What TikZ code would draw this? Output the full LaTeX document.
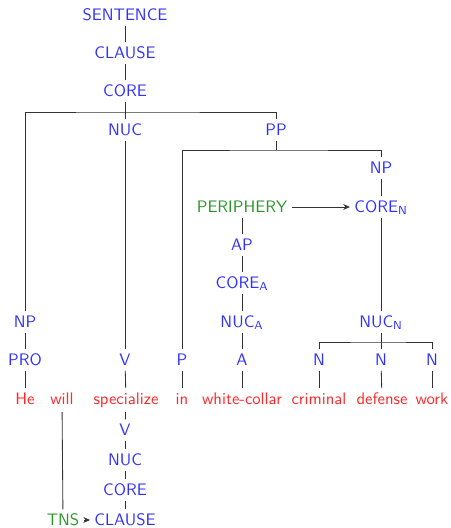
\documentclass[tikz,border=0pt]{standalone}
\usetikzlibrary{arrows.meta}
\definecolor{catblue}{RGB}{48,48,255}
\definecolor{wordred}{RGB}{255,40,40}
\definecolor{opgreen}{RGB}{40,150,40}
\tikzset{
  cat/.style={text=catblue, font=\sffamily, inner sep=2.5pt, text height=7pt, text depth=0.5pt},
  word/.style={text=wordred, font=\sffamily, inner sep=2.5pt, text height=7pt, text depth=2pt},
  oper/.style={text=opgreen, font=\sffamily, inner sep=2.5pt, text height=7pt, text depth=0.5pt},
  link/.style={draw=black!80, line width=0.5pt},
  oparrow/.style={link, -{Stealth[length=4pt,width=3.5pt]}}
}
\begin{document}
\begin{tikzpicture}[x=0.6pt, y=-0.6pt]
\useasboundingbox (0,0) rectangle (451,528);
% clause spine
\node[cat] (sent) at (125,15) {SENTENCE};
\node[cat] (clause) at (125,53) {CLAUSE};
\node[cat] (core) at (125,91) {CORE};
\node[cat] (nuc) at (125,130) {NUC};
\node[cat] (pp) at (276,130) {PP};
\node[cat] (np1) at (25,322) {NP};
\node[cat] (pro) at (25,360) {PRO};
\node[cat] (v) at (125,360) {V};
\node[cat] (p) at (182,360) {P};
% noun phrase
\node[cat] (np2) at (381,168) {NP};
\node[oper] (peri) at (242,207) {PERIPHERY};
\node[cat] (coren) at (381,207) {CORE\textsubscript{N}};
\node[cat] (ap) at (242,245) {AP};
\node[cat] (corea) at (242,283) {CORE\textsubscript{A}};
\node[cat] (nuca) at (242,322) {NUC\textsubscript{A}};
\node[cat] (a) at (242,360) {A};
\node[cat] (nucn) at (381,322) {NUC\textsubscript{N}};
\node[cat] (n1) at (319,360) {N};
\node[cat] (n2) at (381,360) {N};
\node[cat] (n3) at (432,360) {N};
% words
\node[word] (he) at (25,400) {He};
\node[word] (will) at (62,400) {will};
\node[word] (spec) at (126,400) {specialize};
\node[word] (in) at (182,400) {in};
\node[word] (white) at (242,400) {white-collar};
\node[word] (crim) at (319,400) {criminal};
\node[word] (def) at (382,400) {defense};
\node[word] (work) at (432,400) {work};
% operator projection
\node[cat] (v2) at (125,430) {V};
\node[cat] (nuc2) at (125,460) {NUC};
\node[cat] (core2) at (125,490) {CORE};
\node[cat] (clause2) at (125,520) {CLAUSE};
\node[oper] (tns) at (63,520) {TNS};
\coordinate (bar1) at (125,112);
\coordinate (bar2) at (276,150);
\coordinate (bar3) at (381,342);

\draw[link] (sent) -- (clause);
\draw[link] (clause) -- (core);
\draw[link] (np1.north) |- (bar1) -| (pp.north);
\draw[link] (core) -- (nuc);
\draw[link] (nuc) -- (v);
\draw[link] (np1) -- (pro);
\draw[link] (p.north) |- (bar2) -| (np2.north);
\draw[link] (pp.south) -- (bar2);
\draw[link] (np2) -- (coren);
\draw[link] (coren) -- (nucn);
\draw[oparrow] (peri) -- (coren);
\draw[link] (peri) -- (ap);
\draw[link] (ap) -- (corea);
\draw[link] (corea) -- (nuca);
\draw[link] (nuca) -- (a);
\draw[link] (n1.north) |- (bar3) -| (n3.north);
\draw[link] (nucn) -- (n2);
\draw[link] (pro) -- (he);
\draw[link] (v) -- (spec);
\draw[link] (p) -- (in);
\draw[link] (a) -- (white);
\draw[link] (n1) -- (crim);
\draw[link] (n2) -- (def);
\draw[link] (n3) -- (work);
\draw[link] (spec) -- (v2);
\draw[link] (v2) -- (nuc2);
\draw[link] (nuc2) -- (core2);
\draw[link] (core2) -- (clause2);
\draw[link] (will) -- (tns);
\draw[oparrow] (tns) -- (clause2);
\end{tikzpicture}
\end{document}
